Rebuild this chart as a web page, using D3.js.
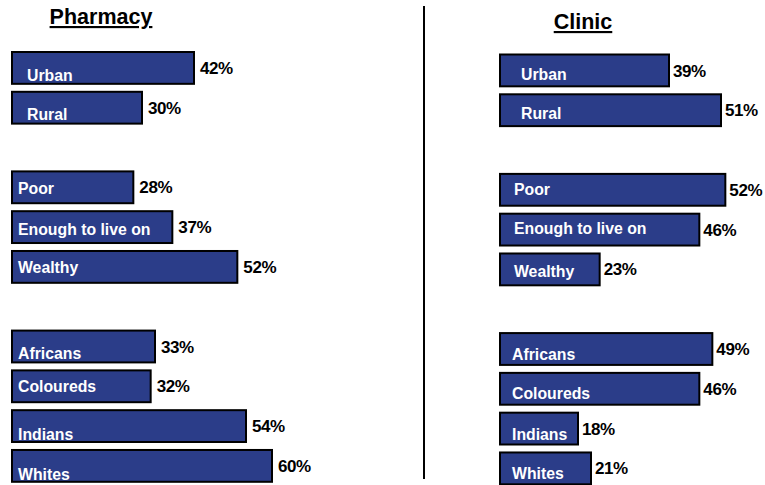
<!DOCTYPE html>
<head>
  <meta charset="utf-8">
  <script src="https://d3js.org/d3.v7.min.js"></script>
  <style>
    body { margin:0; background:#fff; }
    svg { display:block; }
    text { font-family: "Liberation Sans", Arial, sans-serif; font-weight: bold; }
  </style>
</head>

<body>
  <script>
    // categories, grouped (one empty row between groups)
    var groups = [
      ["Urban", "Rural"],
      ["Poor", "Enough to live on", "Wealthy"],
      ["Africans", "Coloureds", "Indians", "Whites"]
    ];
    var pharmacy = [42, 30, 28, 37, 52, 33, 32, 54, 60];
    var clinic   = [39, 51, 52, 46, 23, 49, 46, 18, 21];

    // small per-row nudges of the in-bar labels, as in the original slide
    var pharmacyLabelDy = [30, 29, 24, 25, 23, 29, 23, 31, 31];
    var clinicLabelDy   = [26, 26, 22, 21, 25, 28, 27, 28, 28];

    var W = 765, H = 485;
    var svg = d3.select("body").append("svg")
        .attr("width", W).attr("height", H);

    // flatten categories into rows, skipping a slot between groups
    var rows = [];
    groups.forEach(function(g, gi) {
      g.forEach(function(c, ci) {
        rows.push({ name: c, group: gi, slot: rows.length + gi });
      });
    });

    var x = d3.scaleLinear().domain([0, 60]).range([0, 260]);
    var y = d3.scaleBand().domain(d3.range(11))
        .range([52, 52 + 39.8 * 11 - 6]).paddingInner(0.15);

    var panels = [
      { title: "Pharmacy", values: pharmacy, dy: pharmacyLabelDy,
        ox: 12, oy: 0, tx: 101, ty: 24, lx: [15, 6, 6], vx: 6 },
      { title: "Clinic", values: clinic, dy: clinicLabelDy,
        ox: 500, oy: 2.5, tx: 583, ty: 29, lx: [21, 14, 12], vx: 4 }
    ];

    panels.forEach(function(p) {
      var g = svg.append("g").attr("transform", "translate(" + p.ox + "," + p.oy + ")");

      svg.append("text")
        .attr("x", p.tx).attr("y", p.ty)
        .attr("text-anchor", "middle")
        .style("font-size", "21.5px")
        .style("text-decoration", "underline")
        .text(p.title);

      var bar = g.selectAll("g.bar").data(rows)
        .enter().append("g").attr("class", "bar")
          .attr("transform", function(d) { return "translate(0," + y(d.slot) + ")"; });

      bar.append("rect")
        .attr("width", function(d, i) { return x(p.values[i]); })
        .attr("height", y.bandwidth() - 2)
        .style("fill", "#2b3d89")
        .style("stroke", "#000")
        .style("stroke-width", 2);

      bar.append("text")
        .attr("x", function(d) { return p.lx[d.group]; })
        .attr("y", function(d, i) { return p.dy[i] - 1; })
        .style("fill", "#fff")
        .style("font-size", "15.8px")
        .text(function(d) { return d.name; });

      bar.append("text")
        .attr("x", function(d, i) { return x(p.values[i]) + p.vx; })
        .attr("y", 22)
        .style("fill", "#000")
        .style("font-size", "17px")
        .style("letter-spacing", "-0.4px")
        .text(function(d, i) { return p.values[i] + "%"; });
    });

    // divider between the two panels
    svg.append("line")
      .attr("x1", 424).attr("x2", 424)
      .attr("y1", 6).attr("y2", 479)
      .style("stroke", "#000")
      .style("stroke-width", 2);
  </script>
</body>

</html>
